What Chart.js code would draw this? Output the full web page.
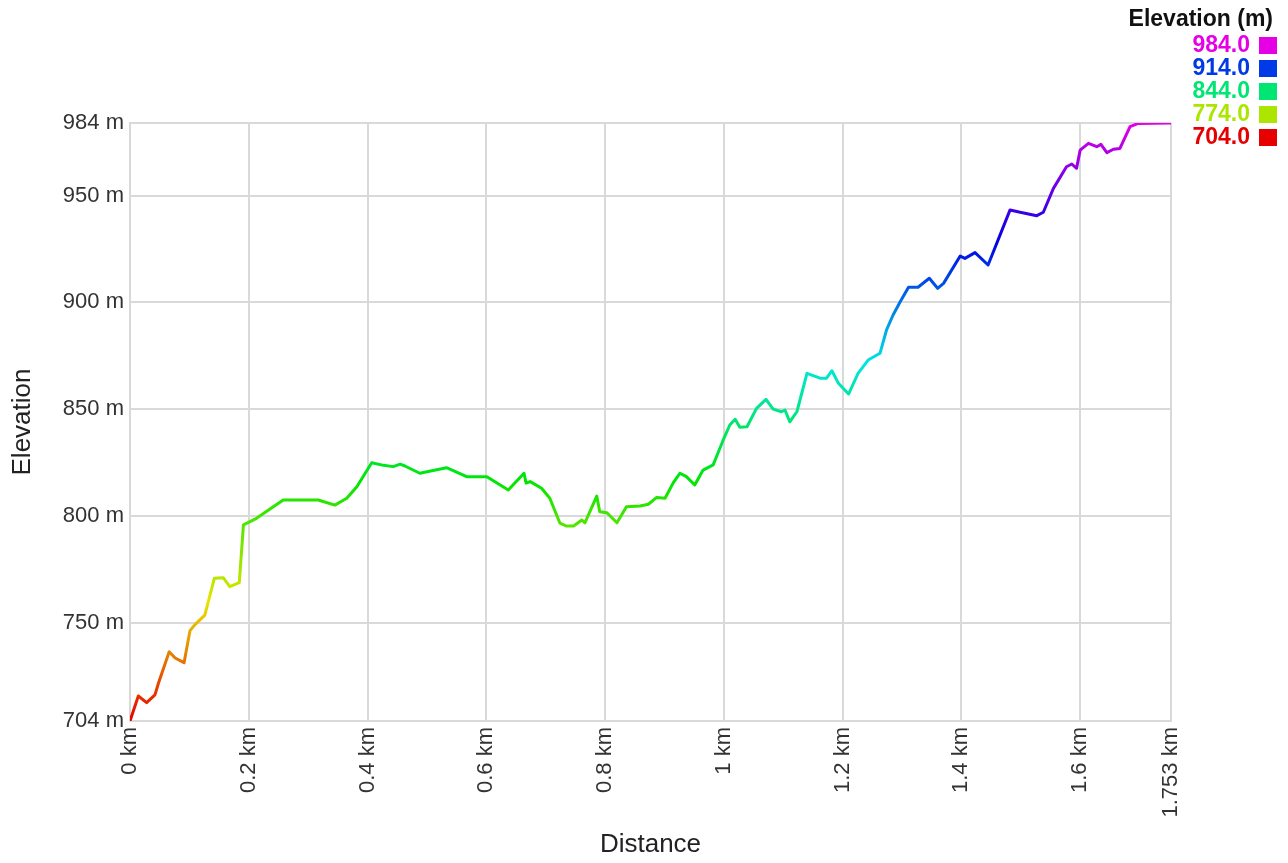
<!DOCTYPE html>
<html>
<head>
<meta charset="utf-8">
<script src="https://cdn.jsdelivr.net/npm/chart.js@4/dist/chart.umd.min.js"></script>
<style>
  html, body { margin: 0; padding: 0; background: #fff; }
  #wrap { width: 1288px; height: 863px; }
</style>
</head>
<body>
<div id="wrap"><canvas id="c" width="1288" height="863"></canvas></div>
<script>
// ---- data (km, m) ----
const distances = [0, 0.014, 0.028, 0.042, 0.048, 0.066, 0.076, 0.091, 0.101, 0.109, 0.126, 0.142, 0.157, 0.168, 0.184, 0.188, 0.191, 0.213, 0.258, 0.317, 0.345, 0.365, 0.382, 0.407, 0.427, 0.443, 0.455, 0.463, 0.488, 0.500, 0.533, 0.567, 0.601, 0.637, 0.6635, 0.667, 0.674, 0.693, 0.707, 0.724, 0.735, 0.747, 0.761, 0.766, 0.786, 0.791, 0.803, 0.820, 0.836, 0.859, 0.873, 0.887, 0.901, 0.915, 0.926, 0.937, 0.951, 0.965, 0.982, 0.999, 1.010, 1.019, 1.027, 1.039, 1.055, 1.071, 1.083, 1.097, 1.103, 1.111, 1.123, 1.140, 1.162, 1.173, 1.182, 1.193, 1.210, 1.226, 1.243, 1.263, 1.274, 1.285, 1.297, 1.311, 1.327, 1.346, 1.360, 1.370, 1.398, 1.406, 1.423, 1.445, 1.482, 1.499, 1.527, 1.538, 1.555, 1.577, 1.586, 1.594, 1.600, 1.614, 1.628, 1.635, 1.645, 1.656, 1.667, 1.684, 1.698, 1.753];
const elevations = [704, 715.7, 712.6, 716.2, 721.8, 736.4, 733.5, 731.3, 746.3, 749.0, 753.6, 770.8, 771.1, 766.9, 768.8, 784.1, 795.8, 798.9, 807.5, 807.5, 805.1, 808.3, 813.7, 824.9, 823.7, 823.1, 824.3, 823.4, 820.0, 820.7, 822.6, 818.4, 818.4, 812.2, 820.0, 815.4, 816.1, 813.0, 808.3, 796.6, 795.3, 795.3, 798.1, 796.8, 809.3, 802.0, 801.5, 796.8, 804.3, 804.7, 805.5, 808.7, 808.3, 815.6, 820.0, 818.4, 814.5, 821.5, 823.9, 835.6, 842.6, 845.3, 841.5, 841.8, 850.4, 854.6, 850.0, 848.8, 849.6, 844.1, 848.8, 866.8, 864.5, 864.5, 868.0, 862.1, 857.1, 866.8, 873.0, 876.2, 887.1, 894.1, 900.3, 907.1, 907.1, 911.3, 906.6, 908.9, 921.7, 920.6, 923.3, 917.5, 943.3, 942.2, 940.6, 942.2, 953.4, 963.5, 964.8, 962.8, 971.3, 974.5, 972.9, 974.0, 970.1, 971.7, 972.1, 982.3, 983.8, 984];
const yTicks = [704, 750, 800, 850, 900, 950, 984];
const xTicks = [0, 0.2, 0.4, 0.6, 0.8, 1, 1.2, 1.4, 1.6, 1.753];
const legendValues = [984, 914, 844, 774, 704];
const elevMin = 704, elevMax = 984;

function colorFor(e) {
  const t = Math.max(0, Math.min(1, (e - elevMin) / (elevMax - elevMin)));
  return 'hsl(' + (t * 300).toFixed(1) + ',100%,45%)';
}

function lineGradient(context) {
  const chart = context.chart;
  const { ctx, chartArea, scales } = chart;
  if (!chartArea || !scales.y) return colorFor(800);
  const y0 = scales.y.getPixelForValue(elevMin);
  const y1 = scales.y.getPixelForValue(elevMax);
  const g = ctx.createLinearGradient(0, y0, 0, y1);
  const n = 20;
  for (let i = 0; i <= n; i++) {
    g.addColorStop(i / n, colorFor(elevMin + (elevMax - elevMin) * i / n));
  }
  return g;
}

const legendPlugin = {
  id: 'elevLegend',
  afterDraw(chart) {
    const ctx = chart.ctx;
    ctx.save();
    ctx.font = 'bold 23px "Liberation Sans", Arial, sans-serif';
    ctx.textAlign = 'right';
    ctx.textBaseline = 'middle';
    ctx.fillStyle = '#111';
    ctx.fillText('Elevation (m)', 1273, 20);
    legendValues.forEach((v, i) => {
      const cy = 46 + i * 23;
      const col = colorFor(v);
      ctx.fillStyle = col;
      ctx.fillText(v.toFixed(1), 1250, cy);
      ctx.fillRect(1259, cy - 9, 18, 17);
    });
    ctx.restore();
  }
};

const data = distances.map((d, i) => ({ x: d, y: elevations[i] }));

new Chart(document.getElementById('c'), {
  type: 'line',
  data: {
    datasets: [{
      data: data,
      borderColor: lineGradient,
      borderWidth: 3,
      borderJoinStyle: 'round',
      pointRadius: 0,
      tension: 0,
      fill: false
    }]
  },
  plugins: [legendPlugin],
  options: {
    responsive: false,
    animation: false,
    events: [],
    layout: { padding: { left: 0, top: 123, right: 117, bottom: 0 } },
    plugins: { legend: { display: false }, tooltip: { enabled: false } },
    scales: {
      x: {
        type: 'linear',
        min: 0,
        max: 1.753,
        afterBuildTicks(scale) { scale.ticks = xTicks.map(v => ({ value: v })); },
        afterFit(scale) { scale.height = 142; },
        ticks: {
          autoSkip: false,
          minRotation: 90,
          maxRotation: 90,
          padding: 6,
          color: '#333',
          font: { family: '"Liberation Sans", Arial, sans-serif', size: 22 },
          callback: (v) => String(v) + ' km'
        },
        grid: { color: '#d9d9d9', lineWidth: 2, drawTicks: false },
        border: { display: true, color: '#d9d9d9', width: 2 },
        title: {
          display: true,
          text: 'Distance',
          color: '#222',
          font: { family: '"Liberation Sans", Arial, sans-serif', size: 26 },
          padding: { top: 0, bottom: 3 }
        }
      },
      y: {
        type: 'linear',
        min: elevMin,
        max: elevMax,
        afterBuildTicks(scale) { scale.ticks = yTicks.map(v => ({ value: v })); },
        afterFit(scale) { scale.width = 130; },
        ticks: {
          autoSkip: false,
          padding: 6,
          color: '#333',
          font: { family: '"Liberation Sans", Arial, sans-serif', size: 22 },
          callback: (v) => String(v) + ' m'
        },
        grid: { color: '#d9d9d9', lineWidth: 2, drawTicks: false },
        border: { display: true, color: '#d9d9d9', width: 2 },
        title: {
          display: true,
          text: 'Elevation',
          color: '#222',
          font: { family: '"Liberation Sans", Arial, sans-serif', size: 26 },
          padding: { top: 7, bottom: 0 }
        }
      }
    }
  }
});
</script>
</body>
</html>
